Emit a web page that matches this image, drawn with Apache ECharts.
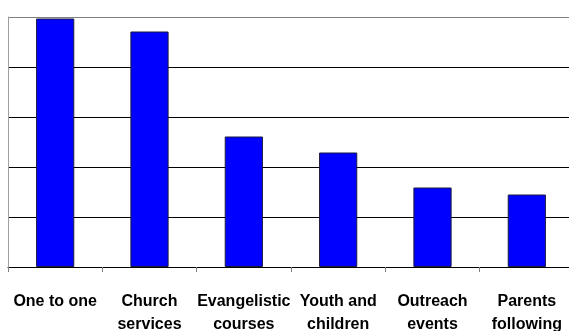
<!DOCTYPE html>
<html>
<head>
<meta charset="utf-8">
<script src="https://cdn.jsdelivr.net/npm/echarts@6/dist/echarts.min.js"></script>
<style>
  html, body { margin: 0; padding: 0; background: #fff; }
  #chart { width: 569px; height: 331px; }
</style>
</head>
<body>
<div id="chart"></div>
<script>
// Activity categories (line breaks are the drawn label wrapping)
const categories = [
  'One to one',
  'Church\nservices',
  'Evangelistic\ncourses',
  'Youth and\nchildren',
  'Outreach\nevents',
  'Parents\nfollowing'
];
// Share of responses per activity (%)
const values = [49.7, 47.1, 26.1, 22.9, 15.9, 14.5];
// Value axis range
const yMin = 0;
const yMax = 50;
const yStep = 10;

const chart = echarts.init(document.getElementById('chart'), null, { renderer: 'canvas' });
chart.setOption({
  animation: false,
  backgroundColor: '#ffffff',
  grid: {
    left: 8, top: 17, width: 566, bottom: 64,
    containLabel: false,
    outerBoundsMode: 'none'
  },
  xAxis: {
    type: 'category',
    data: categories,
    boundaryGap: true,
    axisLine: { show: true, lineStyle: { color: '#000', width: 1 } },
    axisTick: { show: true, length: 5, inside: false, lineStyle: { color: '#808080' } },
    axisLabel: {
      interval: 0,
      margin: 23,
      color: '#000',
      fontFamily: 'Liberation Sans, Arial, sans-serif',
      fontWeight: 'bold',
      fontSize: 16,
      lineHeight: 23,
      align: 'center'
    },
    splitLine: { show: false }
  },
  yAxis: {
    type: 'value',
    min: yMin,
    max: yMax,
    interval: yStep,
    axisLine: { show: true, lineStyle: { color: '#a0a0a0', width: 1 } },
    axisTick: { show: false },
    axisLabel: { show: false },
    splitLine: {
      show: true,
      lineStyle: { color: ['#000', '#000', '#000', '#000', '#000', '#808080'], width: 1 }
    }
  },
  series: [{
    type: 'bar',
    data: values,
    barWidth: '40.5%',
    itemStyle: { color: '#0000ff', borderColor: '#1a1a40', borderWidth: 1 },
    emphasis: { disabled: true }
  }]
});
</script>
</body>
</html>
